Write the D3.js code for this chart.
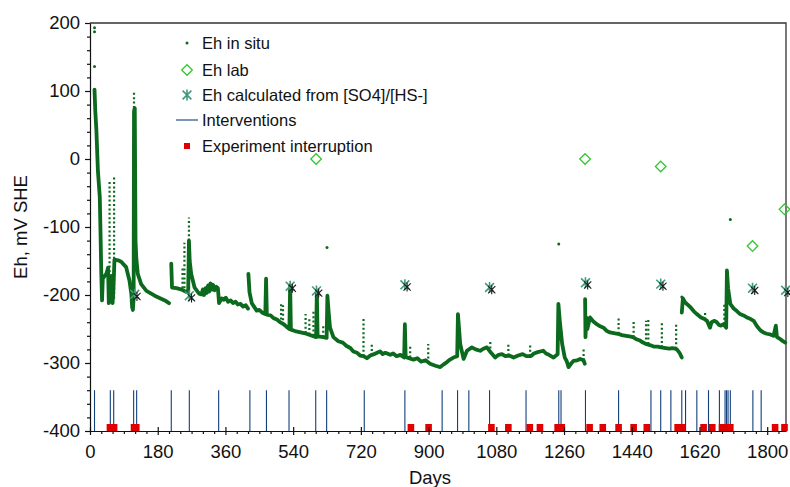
<!DOCTYPE html>
<html>
<head>
<meta charset="utf-8">
<script src="https://cdn.jsdelivr.net/npm/d3@7"></script>
<style>
  html, body { margin: 0; padding: 0; background: #fff; }
  svg { display: block; font-family: "Liberation Sans", Arial, sans-serif; }
</style>
</head>
<body>
<svg id="chart" width="790" height="487"></svg>
<script>
// ---- Eh in situ: continuous logger record, one array per logging period [day, mV] ----
const insitu1 = [[12,102],[14,71],[17,42],[21,-17],[26,-56],[28,-110],[30,-168],[32,-208],[34,-176],[39,-172],
  [44,-168],[48,-160],[50,-212],[52,-185],[55,-205],[57,-172],[60,-212],[62,-195],[65,-148],[75,-149],[83,-151],
  [96,-159],[105,-179],[110,-199],[112,-218],[114,-222],[116,-205],[117,70],[119,75],[121,-120],[123,-145],
  [127,-169],[136,-184],[150,-194],[172,-201],[199,-208],[210,-212]];
const insitu2 = [[216,-154],[218,-189],[230,-190],[244,-192],[254,-195],[261,-196],[263,-120],[265,-150],[269,-169],
  [278,-189],[290,-198],[296,-199],[300,-192],[303,-200],[307,-190],[310,-197],[314,-186],[317,-195],[320,-183],
  [324,-192],[327,-185],[331,-193],[336,-188],[340,-190],[343,-212],[350,-205],[355,-207],[361,-204],[367,-210],
  [374,-208],[380,-212],[387,-210],[393,-214],[400,-213],[407,-217],[414,-215],[420,-220]];
const insitu3 = [[421,-169],[424,-196],[430,-212],[443,-223],[450,-222],[458,-226],[466,-228],[468,-176],[470,-229],
  [480,-230],[488,-234],[497,-236],[505,-240],[515,-243],[523,-247],[530,-250],[532,-186],[534,-251],[545,-253],
  [560,-255],[575,-257],[590,-260],[601,-262],[603,-194],[605,-261],[620,-262],[629,-263],[631,-201],[634,-223],
  [638,-248],[647,-262],[660,-268],[672,-270],[682,-275],[692,-278],[700,-283],[710,-285],[718,-289],[727,-290],
  [736,-293],[745,-289],[755,-287],[763,-285],[771,-283],[778,-287],[785,-285],[798,-288],[806,-286],[815,-290],
  [825,-288],[835,-292],[837,-243],[839,-291],[848,-293],[860,-295],[870,-293],[880,-298],[892,-296],[904,-301],
  [918,-304],[931,-306],[940,-302],[948,-299],[957,-295],[966,-292],[976,-290],[978,-228],[984,-272],[993,-294],
  [1002,-282],[1015,-277],[1025,-280],[1037,-282],[1046,-279],[1055,-277],[1066,-285],[1077,-292],[1086,-288],
  [1095,-287],[1104,-290],[1114,-289],[1126,-292],[1138,-289],[1150,-287],[1160,-290],[1172,-290],[1180,-286],
  [1190,-284],[1205,-282],[1212,-286],[1220,-288],[1232,-292],[1243,-287],[1245,-213],[1249,-240],[1255,-272],
  [1262,-292],[1267,-297],[1272,-306],[1280,-300],[1285,-297],[1295,-296],[1303,-294],[1312,-296],[1315,-301]];
const insitu4 = [[1316,-206],[1317,-262],[1319,-233],[1322,-250],[1329,-233],[1338,-239],[1347,-243],[1356,-246],
  [1365,-248],[1374,-253],[1382,-255],[1392,-256],[1403,-257],[1414,-259],[1425,-260],[1434,-261],[1443,-262],
  [1452,-265],[1462,-267],[1470,-270],[1478,-272],[1490,-274],[1500,-276],[1509,-276],[1518,-277],[1530,-278],
  [1540,-279],[1548,-278],[1556,-279],[1560,-280],[1567,-285],[1573,-292]];
const insitu5 = [[1573,-226],[1576,-205],[1582,-211],[1590,-215],[1596,-218],[1605,-224],[1613,-228],[1624,-233],
  [1632,-235],[1640,-238],[1648,-248],[1652,-240],[1660,-238],[1666,-240],[1672,-244],[1677,-245],[1684,-243],
  [1691,-248],[1693,-164],[1696,-190],[1702,-213],[1711,-220],[1720,-224],[1728,-228],[1737,-230],[1746,-233],
  [1755,-235],[1764,-238],[1773,-246],[1782,-252],[1790,-255],[1799,-257],[1808,-258],[1817,-260],[1823,-245],
  [1826,-262],[1835,-265],[1842,-268],[1848,-270]];
// short sparse excursions after interventions [day, from mV, to mV]
const insituSpikes = [[52,-205,-34],[64,-205,-27],[117,75,98],[246,-190,-158],[251,-190,-123],[263,-120,-86],
  [508,-236,-213],[513,-237,-215],[573,-256,-228],[583,-258,-232],[594,-260,-223],[620,-262,-243],
  [727,-290,-235],[749,-289,-271],[851,-292,-276],[899,-300,-272],[1064,-285,-267],[1112,-289,-270],
  [1170,-290,-272],[1312,-296,-277],[1405,-257,-233],[1445,-262,-236],[1478,-272,-238],[1484,-272,-236],
  [1520,-277,-240],[1558,-279,-243],[1635,-236,-226],[1686,-243,-211],[1823,-260,-245]];
// isolated readings
const insituSingles = [[12,193],[12,187],[12,136],[630,-130],[1246,-125],[1573,-203],[1702,-89]];

// ---- Eh lab ----
const labDays = [601, 1316, 1517, 1761, 1846];
const labEh   = [0, 0, -11, -128, -74];

// ---- Eh calculated from [SO4]/[HS-] ----
const calcDays = [119, 264, 532, 602, 837, 1062, 1317, 1517, 1761, 1849];
const calcEh   = [-199, -201, -187, -194, -185, -189, -182, -184, -190, -193];

// ---- Interventions and experiment interruptions (days) ----
const interventionDays = [12, 54, 63, 116, 124, 216, 264, 342, 425, 469, 529, 600, 629, 729, 837, 936, 977, 1007,
  1062, 1159, 1246, 1252, 1317, 1405, 1491, 1517, 1544, 1573, 1583, 1613, 1644, 1673, 1688, 1692, 1696, 1702,
  1762, 1784];
const interventionSpan = [-400, -340];
const interruptionDays = [53, 64, 117, 123, 853, 900, 1067, 1112, 1169, 1196, 1243, 1254, 1328, 1363, 1405, 1445,
  1480, 1562, 1574, 1631, 1654, 1680, 1691, 1702, 1821, 1846];
const interruptionLevel = -395;

// ---- Axis ticks ----
const xTickValues = d3.range(0, 1801, 180);
const xMinorValues = d3.range(0, 1851, 30).filter(d => d % 180 !== 0);
const yTickValues = d3.range(-400, 201, 100);
const yMinorValues = d3.range(-400, 201, 20).filter(d => d % 100 !== 0);

const legendItems = ["Eh in situ", "Eh lab", "Eh calculated from [SO4]/[HS-]", "Interventions", "Experiment interruption"];

// ---- colours ----
const cInsitu = "#0b6a1d", cLab = "#33c633", cCalc = "#3f9c78", cInterv = "#123f7a", cStop = "#e00000";

const svg = d3.select("#chart");
const x = d3.scaleLinear().domain([0, 1850]).range([90, 786]);
const y = d3.scaleLinear().domain([-400, 200]).range([431, 23]);

// plot frame (top and right)
svg.append("path")
  .attr("d", `M${x(0)},${y(200)}H${x(1850)}V${y(-400)}`)
  .attr("fill", "none").attr("stroke", "#333").attr("stroke-width", 1.3);

// interventions
svg.append("g").selectAll("line").data(interventionDays).join("line")
  .attr("x1", d => x(d)).attr("x2", d => x(d))
  .attr("y1", y(interventionSpan[0])).attr("y2", y(interventionSpan[1]))
  .attr("stroke", cInterv).attr("stroke-width", 1.1);

// interruptions
svg.append("g").selectAll("rect").data(interruptionDays).join("rect")
  .attr("x", d => x(d) - 3.3).attr("y", y(interruptionLevel) - 3.6)
  .attr("width", 6.6).attr("height", 7.2).attr("fill", cStop);

// in situ record
const line = d3.line().x(d => x(d[0])).y(d => y(d[1]));
const gIn = svg.append("g");
gIn.selectAll("path.trace").data([insitu1, insitu2, insitu3, insitu4, insitu5]).join("path")
  .attr("class", "trace").attr("d", line)
  .attr("fill", "none").attr("stroke", cInsitu).attr("stroke-width", 3.8)
  .attr("stroke-linejoin", "round").attr("stroke-linecap", "round");
gIn.selectAll("line.spike").data(insituSpikes).join("line")
  .attr("class", "spike")
  .attr("x1", d => x(d[0])).attr("x2", d => x(d[0]))
  .attr("y1", d => y(d[1])).attr("y2", d => y(d[2]))
  .attr("stroke", cInsitu).attr("stroke-width", 2.2).attr("stroke-dasharray", "2,2.4");
gIn.selectAll("circle").data(insituSingles).join("circle")
  .attr("cx", d => x(d[0])).attr("cy", d => y(d[1])).attr("r", 1.5).attr("fill", cInsitu);

// symbol helpers
function asterisk(g, cx, cy, r, color, w) {
  const p = d3.path();
  p.moveTo(cx, cy - r); p.lineTo(cx, cy + r);
  const a = r * 0.8;
  p.moveTo(cx - a, cy - a); p.lineTo(cx + a, cy + a);
  p.moveTo(cx - a, cy + a); p.lineTo(cx + a, cy - a);
  g.append("path").attr("d", p.toString()).attr("stroke", color).attr("stroke-width", w).attr("fill", "none");
}
function diamond(g, cx, cy, r) {
  g.append("path").attr("d", `M${cx},${cy - r}L${cx + r},${cy}L${cx},${cy + r}L${cx - r},${cy}Z`)
    .attr("fill", "none").attr("stroke", cLab).attr("stroke-width", 1.3);
}

// calculated Eh
const gCalc = svg.append("g");
calcDays.forEach((d, i) => {
  asterisk(gCalc, x(d), y(calcEh[i]), 5.5, cCalc, 1.6);
  asterisk(gCalc, x(d) + 2.2, y(calcEh[i]) + 2.2, 4.5, "#1a1a1a", 1.1);
});

// lab Eh
const gLab = svg.append("g");
labDays.forEach((d, i) => diamond(gLab, x(d), y(labEh[i]), 5.3));

// axes
const gxMinor = svg.append("g").attr("transform", `translate(0,${y(-400)})`)
  .call(d3.axisBottom(x).tickValues(xMinorValues).tickSize(3).tickFormat(""));
gxMinor.select(".domain").remove();
const gx = svg.append("g").attr("transform", `translate(0,${y(-400)})`)
  .call(d3.axisBottom(x).tickValues(xTickValues).tickSizeInner(4).tickSizeOuter(0).tickPadding(10)
    .tickFormat(d3.format("d")));
gx.selectAll(".tick line").attr("y1", -4);

const gyMinor = svg.append("g").attr("transform", `translate(${x(0)},0)`)
  .call(d3.axisLeft(y).tickValues(yMinorValues).tickSize(3).tickFormat(""));
gyMinor.select(".domain").remove();
const gy = svg.append("g").attr("transform", `translate(${x(0)},0)`)
  .call(d3.axisLeft(y).tickValues(yTickValues).tickSizeInner(5).tickSizeOuter(0).tickPadding(5)
    .tickFormat(d3.format("d")));

[gx, gy, gxMinor, gyMinor].forEach(g => {
  g.selectAll("path, line").attr("stroke", "#111").attr("stroke-width", 1.2);
  g.selectAll("text").attr("font-size", 18.5).attr("fill", "#111")
    .attr("font-family", '"Liberation Sans", Arial, sans-serif');
});
gy.selectAll("text").text(d => d < 0 ? "-" + Math.abs(d) : d);

// axis titles
svg.append("text").attr("x", 430).attr("y", 484).attr("text-anchor", "middle")
  .attr("font-size", 18.5).attr("fill", "#111").text("Days");
svg.append("text").attr("transform", `translate(27,227) rotate(-90)`).attr("text-anchor", "middle")
  .attr("font-size", 18.5).attr("fill", "#111").text("Eh, mV SHE");

// legend
const lg = svg.append("g");
const rowY = [43, 70, 95, 120, 146];
const mx = 187, tx = 202;
lg.append("circle").attr("cx", mx).attr("cy", rowY[0]).attr("r", 1.5).attr("fill", cInsitu);
diamond(lg, mx, rowY[1], 5.3);
asterisk(lg, mx, rowY[2], 5.5, cCalc, 1.6);
lg.append("line").attr("x1", 176).attr("x2", 198).attr("y1", rowY[3]).attr("y2", rowY[3])
  .attr("stroke", cInterv).attr("stroke-width", 1.1);
lg.append("rect").attr("x", mx - 3).attr("y", rowY[4] - 3).attr("width", 6).attr("height", 6).attr("fill", cStop);
lg.selectAll("text").data(legendItems).join("text")
  .attr("x", tx).attr("y", (d, i) => rowY[i]).attr("dy", "0.35em")
  .attr("font-size", 16.5).attr("fill", "#111").text(d => d);
</script>
</body>
</html>
